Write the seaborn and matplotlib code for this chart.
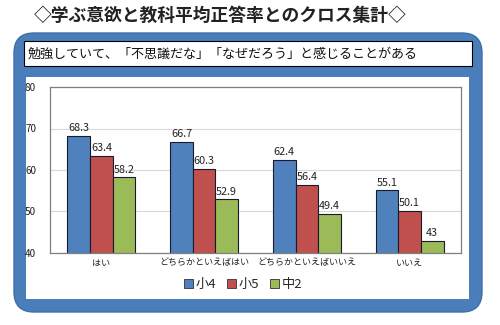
import matplotlib
matplotlib.use("Agg")
import matplotlib.pyplot as plt
import seaborn as sns
import pandas as pd
from matplotlib.patches import FancyBboxPatch, Rectangle

categories = ["はい", "どちらかといえばはい", "どちらかといえばいいえ", "いいえ"]
series = ["小4", "小5", "中2"]
vals_s4 = [68.3, 66.7, 62.4, 55.1]
vals_s5 = [63.4, 60.3, 56.4, 50.1]
vals_c2 = [58.2, 52.9, 49.4, 43]
labels_s4 = ["68.3", "66.7", "62.4", "55.1"]
labels_s5 = ["63.4", "60.3", "56.4", "50.1"]
labels_c2 = ["58.2", "52.9", "49.4", "43"]
yticks = [40, 50, 60, 70, 80]
title = "◇学ぶ意欲と教科平均正答率とのクロス集計◇"
subtitle = "勉強していて、「不思議だな」「なぜだろう」と感じることがある"

colors = ["#4F81BD", "#C0504D", "#9BBB59"]

sns.set_theme(style="white")
plt.rcParams["font.family"] = ["Noto Sans CJK JP", "DejaVu Sans"]

df = pd.DataFrame({
    "cat": categories * 3,
    "series": [series[0]] * 4 + [series[1]] * 4 + [series[2]] * 4,
    "val": vals_s4 + vals_s5 + vals_c2,
})

W, H = 500, 325
fig = plt.figure(figsize=(5, 3.25), dpi=100)
fig.patch.set_facecolor("white")

def fx(x):
    return x / W

def fy(y):
    return 1 - y / H

# blue rounded frame
frame = FancyBboxPatch((fx(14), fy(312)), fx(468), 279 / H,
                       boxstyle="round,pad=0,rounding_size=0.04",
                       transform=fig.transFigure, facecolor="#4A7EBB",
                       edgecolor="#3F6FA8", linewidth=1, zorder=-3,
                       mutation_aspect=W / H)
fig.patches.append(frame)
# subtitle box
fig.patches.append(Rectangle((fx(24), fy(66)), fx(448), 25 / H,
                             transform=fig.transFigure, facecolor="white",
                             edgecolor="black", linewidth=0.8, zorder=-2))
# chart area
fig.patches.append(Rectangle((fx(26), fy(299)), fx(443), 222 / H,
                             transform=fig.transFigure, facecolor="white",
                             edgecolor="none", zorder=-2))

fig.text(fx(220), fy(16), title, ha="center", va="center", fontsize=12.8,
         fontweight="bold", color="#222222")
fig.text(fx(28), fy(54), subtitle, ha="left", va="center", fontsize=9.4,
         color="#111111")

ax = fig.add_axes([fx(50), fy(253), fx(411), 166 / H])
sns.barplot(data=df, x="cat", y="val", hue="series", palette=colors,
            order=categories, hue_order=series, width=0.66, saturation=1,
            edgecolor="#1a1a2e", linewidth=0.8, ax=ax, legend=True)

ax.set_ylim(40, 80)
ax.set_yticks(yticks)
ax.set_yticklabels([str(t) for t in yticks], fontsize=7.2, color="#222222")
ax.set_xlabel("")
ax.set_ylabel("")
ax.tick_params(axis="x", labelsize=6.5, colors="#222222", length=0, pad=4)
ax.tick_params(axis="y", length=0, pad=10)
ax.yaxis.grid(True, color="#D9D9D9", linewidth=0.8)
ax.set_axisbelow(True)
for s in ax.spines.values():
    s.set_color("#7F7F7F")
    s.set_linewidth(0.9)
ax.set_facecolor("white")

all_labels = [labels_s4, labels_s5, labels_c2]
for cont, labs in zip(ax.containers, all_labels):
    ax.bar_label(cont, labels=labs, fontsize=7.8, color="#222222", padding=2)

leg = ax.legend(loc="upper center", bbox_to_anchor=(0.47, -0.08), ncol=3,
                frameon=False, fontsize=9.5, handlelength=0.7, handleheight=0.7,
                handletextpad=0.2, columnspacing=0.8)
for h in leg.legend_handles:
    h.set_edgecolor("#333333")
    h.set_linewidth(0.6)

fig.savefig("out.png", dpi=100)
